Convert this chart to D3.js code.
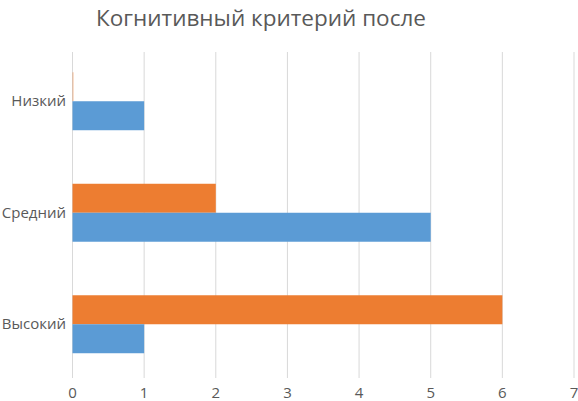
<!DOCTYPE html>
<html><head><meta charset="utf-8">
<script src="https://cdn.jsdelivr.net/npm/d3@7"></script>
<style>body{margin:0;background:#fff}svg{display:block}</style>
</head><body>
<svg id="c" width="578" height="401"></svg>
<script>
const categories = ["Низкий", "Средний", "Высокий"];
const seriesBlue = [1, 5, 1];
const seriesOrange = [0, 2, 6];
const xTicks = [0, 1, 2, 3, 4, 5, 6, 7];
const title = "Когнитивный критерий после";

const svg = d3.select("#c");
const font = "Open Sans, sans-serif";
const x = d3.scaleLinear().domain([0, 7]).range([72.5, 574]);
const y = d3.scaleBand().domain(categories).range([45.5, 380]).paddingInner(0.48).paddingOuter(0.24);
const sub = d3.scaleBand().domain(["orange", "blue"]).range([0, y.bandwidth()]);
const colors = {orange: "#ED7D31", blue: "#5B9BD5"};

svg.append("text").attr("x", 261).attr("y", 26).attr("text-anchor", "middle")
  .attr("font-family", font).attr("font-size", 22.5).attr("fill", "#595959").text(title);

svg.append("g").selectAll("line").data(xTicks).join("line")
  .attr("x1", d => x(d)).attr("x2", d => x(d)).attr("y1", 52).attr("y2", 378)
  .attr("stroke", "#d9d9d9").attr("stroke-width", 1);

const rows = categories.map((c, i) => ({c, orange: seriesOrange[i], blue: seriesBlue[i]}));
const g = svg.append("g");
["orange", "blue"].forEach(s => {
  g.selectAll("rect." + s).data(rows).join("rect").attr("class", s)
    .attr("x", x(0)).attr("y", d => y(d.c) + sub(s))
    .attr("width", d => Math.max(1, x(d[s]) - x(0)))
    .attr("height", sub.bandwidth())
    .attr("fill", colors[s]).attr("opacity", d => d[s] === 0 ? 0.5 : 1);
});

svg.append("g").selectAll("text").data(xTicks).join("text")
  .attr("x", d => x(d)).attr("y", 398).attr("text-anchor", "middle")
  .attr("font-family", font).attr("font-size", 15).attr("fill", "#595959").text(d => d);

svg.append("g").selectAll("text").data(categories).join("text")
  .attr("x", 66).attr("y", d => y(d) + y.bandwidth() / 2 + 5).attr("text-anchor", "end")
  .attr("font-family", font).attr("font-size", 15).attr("fill", "#595959").text(d => d);
</script>
</body></html>
